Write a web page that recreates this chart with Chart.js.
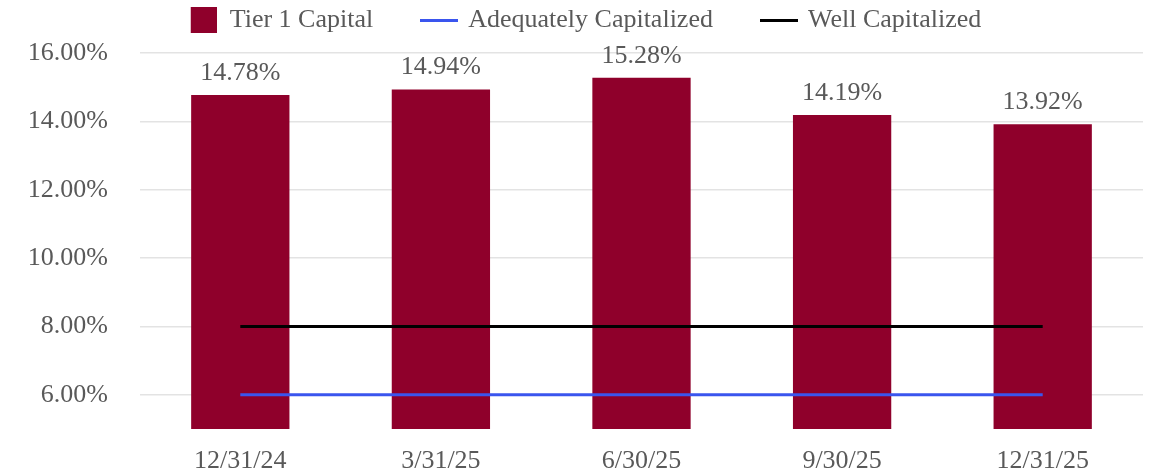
<!DOCTYPE html>
<html>
<head>
<meta charset="utf-8">
<title>Tier 1 Capital</title>
<script src="https://cdn.jsdelivr.net/npm/chart.js@4/dist/chart.umd.min.js"></script>
<style>
  html, body { margin: 0; padding: 0; background: #ffffff; }
  #wrap { width: 1153px; height: 475px; position: relative; }
</style>
</head>
<body>
<div id="wrap"><canvas id="chart"></canvas></div>
<script>
// Quarter-end dates on the category axis
const categories = ['12/31/24', '3/31/25', '6/30/25', '9/30/25', '12/31/25'];
// Tier 1 capital ratio, percent
const tier1Capital = [14.78, 14.94, 15.28, 14.19, 13.92];
// Regulatory thresholds, percent
const adequatelyCapitalized = [6, 6, 6, 6, 6];
const wellCapitalized = [8, 8, 8, 8, 8];
// Value-axis ticks, percent
const yTickValues = [6, 8, 10, 12, 14, 16];

const FONT = "'Liberation Serif', 'Times New Roman', serif";
const TEXT = '#595959';
const BAR = '#8F002B';
const BLUE = '#3A55EE';
const BLACK = '#000000';

// Small canvases used as legend markers (square sits at the right of its slot)
function swatch(w, h, color, fillX, fillW) {
  const c = document.createElement('canvas');
  c.width = w; c.height = h;
  const g = c.getContext('2d');
  g.fillStyle = color;
  g.fillRect(fillX, 0, fillW, h);
  return c;
}
const markers = [
  swatch(32, 26, BAR, 6, 26),
  swatch(38, 3, BLUE, 0, 38),
  swatch(38, 3, BLACK, 0, 38)
];

// Percentage labels above each bar
const barValueLabels = {
  id: 'barValueLabels',
  afterDatasetsDraw(chart) {
    const ctx = chart.ctx;
    const meta = chart.getDatasetMeta(0);
    ctx.save();
    ctx.font = '26px ' + FONT;
    ctx.fillStyle = TEXT;
    ctx.textAlign = 'center';
    ctx.textBaseline = 'middle';
    meta.data.forEach((bar, i) => {
      ctx.fillText(tier1Capital[i].toFixed(2) + '%', bar.x, bar.y - 22);
    });
    ctx.restore();
  }
};

new Chart(document.getElementById('chart'), {
  data: {
    labels: categories,
    datasets: [
      {
        type: 'bar',
        label: 'Tier 1 Capital',
        data: tier1Capital,
        backgroundColor: BAR,
        borderWidth: 0,
        barPercentage: 0.49,
        categoryPercentage: 1,
        order: 3
      },
      {
        type: 'line',
        label: 'Adequately Capitalized',
        data: adequatelyCapitalized,
        borderColor: BLUE,
        borderWidth: 3,
        pointRadius: 0,
        fill: false,
        order: 1
      },
      {
        type: 'line',
        label: 'Well Capitalized',
        data: wellCapitalized,
        borderColor: BLACK,
        borderWidth: 3,
        pointRadius: 0,
        fill: false,
        order: 2
      }
    ]
  },
  options: {
    responsive: true,
    maintainAspectRatio: false,
    animation: false,
    layout: { padding: { left: 23, right: 10, top: -43, bottom: 0 } },
    plugins: {
      tooltip: { enabled: false },
      legend: {
        position: 'top',
        align: 'center',
        labels: {
          usePointStyle: true,
          pointStyleWidth: 32,
          padding: 50,
          color: TEXT,
          font: { family: FONT, size: 26 },
          generateLabels(chart) {
            return chart.data.datasets.map((ds, i) => ({
              text: ds.label,
              pointStyle: markers[i],
              fillStyle: 'transparent',
              strokeStyle: 'transparent',
              lineWidth: 0,
              fontColor: TEXT,
              hidden: false,
              datasetIndex: i
            }));
          }
        }
      }
    },
    scales: {
      x: {
        afterFit(scale) { scale.height = 46; },
        grid: { display: false, drawTicks: false },
        border: { display: false },
        ticks: {
          color: TEXT,
          padding: 17,
          font: { family: FONT, size: 26 },
          maxRotation: 0
        }
      },
      y: {
        min: 5,
        max: 16.3,
        afterFit(scale) { scale.width = 117; },
        afterBuildTicks(scale) {
          scale.ticks = yTickValues.map(v => ({ value: v }));
        },
        grid: {
          color: '#E3E3E3',
          lineWidth: 1.5,
          drawTicks: true,
          tickLength: 32,
          tickColor: 'rgba(0,0,0,0)'
        },
        border: { display: false },
        ticks: {
          color: TEXT,
          padding: 0,
          font: { family: FONT, size: 26 },
          callback: v => Number(v).toFixed(2) + '%'
        }
      }
    }
  },
  plugins: [barValueLabels]
});
</script>
</body>
</html>
